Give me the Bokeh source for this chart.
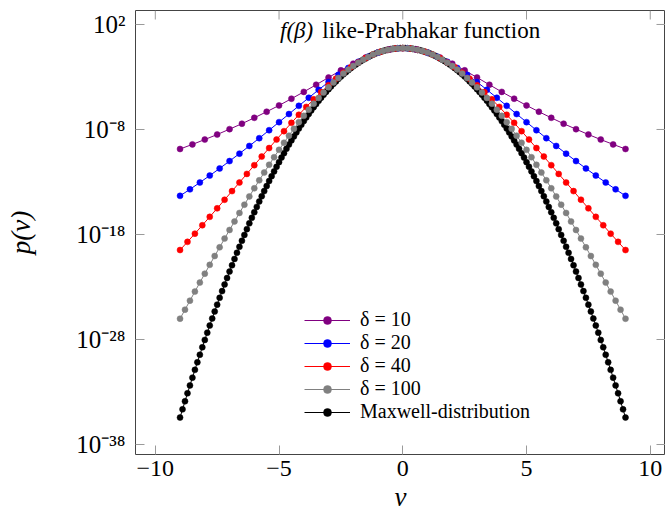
import numpy as np
from bokeh.plotting import figure
from bokeh.models import (Range1d, FixedTicker, CustomJSTickFormatter,
                          Legend, LegendItem, Label)
from bokeh.embed import file_html
from bokeh.resources import INLINE

# ---------------- data ----------------
series_labels = ["δ = 10", "δ = 20", "δ = 40", "δ = 100", "Maxwell-distribution"]
series_colors = ["#800080", "#0000ff", "#ff0000", "#808080", "#000000"]

# sample positions v >= 0 (curves are symmetric about v = 0)
purple_v = np.round(np.arange(0.0, 9.0001, 0.5), 2)
blue_v = np.round(np.arange(0.2, 9.0001, 0.4), 2)
red_v = np.round(np.arange(0.0, 9.0001, 0.3), 2)
gray_v = np.round(np.arange(0.0, 9.0001, 0.2), 2)
maxwell_v = np.round(np.arange(0.0, 9.0001, 0.1), 2)

# log10 p(v)
purple_log10p = [-0.27, -0.37, -0.68, -1.15, -1.73, -2.37, -3.05, -3.74, -4.42, -5.07,
                 -5.71, -6.31, -6.89, -7.45, -7.97, -8.48, -8.96, -9.42, -9.86]
blue_log10p = [-0.27, -0.41, -0.68, -1.07, -1.56, -2.14, -2.79, -3.48, -4.22, -4.98,
               -5.75, -6.53, -7.30, -8.07, -8.83, -9.57, -10.30, -11.01, -11.71, -12.39,
               -13.05, -13.70, -14.32]
red_log10p = [-0.25, -0.29, -0.41, -0.60, -0.87, -1.20, -1.61, -2.07, -2.59, -3.16,
              -3.78, -4.44, -5.13, -5.85, -6.60, -7.37, -8.16, -8.96, -9.77, -10.58,
              -11.40, -12.23, -13.05, -13.87, -14.69, -15.51, -16.32, -17.12, -17.92, -18.70,
              -19.48]
gray_log10p = [-0.25, -0.27, -0.32, -0.41, -0.53, -0.68, -0.87, -1.09, -1.35, -1.64,
               -1.95, -2.30, -2.68, -3.09, -3.53, -3.99, -4.48, -5.00, -5.54, -6.11,
               -6.70, -7.31, -7.94, -8.59, -9.26, -9.94, -10.64, -11.36, -12.10, -12.84,
               -13.60, -14.38, -15.16, -15.95, -16.76, -17.57, -18.39, -19.22, -20.05, -20.89,
               -21.73, -22.58, -23.44, -24.30, -25.16, -26.02]
maxwell_log10p = [-0.25, -0.25, -0.27, -0.29, -0.32, -0.36, -0.41, -0.46, -0.53, -0.60,
                  -0.68, -0.77, -0.87, -0.98, -1.10, -1.23, -1.36, -1.50, -1.66, -1.82,
                  -1.99, -2.16, -2.35, -2.55, -2.75, -2.96, -3.18, -3.42, -3.65, -3.90,
                  -4.16, -4.42, -4.70, -4.98, -5.27, -5.57, -5.88, -6.19, -6.52, -6.85,
                  -7.20, -7.55, -7.91, -8.28, -8.66, -9.04, -9.44, -9.84, -10.26, -10.68,
                  -11.11, -11.55, -11.99, -12.45, -12.91, -13.39, -13.87, -14.36, -14.86, -15.37,
                  -15.88, -16.41, -16.94, -17.49, -18.04, -18.60, -19.17, -19.74, -20.33, -20.93,
                  -21.53, -22.14, -22.76, -23.39, -24.03, -24.68, -25.33, -26.00, -26.67, -27.35,
                  -28.04, -28.74, -29.45, -30.17, -30.89, -31.63, -32.37, -33.12, -33.88, -34.65,
                  -35.43]

x_ticks = [-10, -5, 0, 5, 10]
y_tick_exponents = [2, -8, -18, -28, -38]

title_math = "f(β)"
title_text = "like-Prabhakar function"
x_label = "v"
y_label = "p(v)"

# ---------------- build full (mirrored) series ----------------
def mirror(v, logp):
    v = np.asarray(v, dtype=float)
    lp = np.asarray(logp, dtype=float)
    assert len(v) == len(lp)
    pos = v > 0
    vf = np.concatenate([-v[pos][::-1], v])
    lf = np.concatenate([lp[pos][::-1], lp])
    return vf, 10.0 ** lf

series = [mirror(purple_v, purple_log10p), mirror(blue_v, blue_log10p),
          mirror(red_v, red_log10p), mirror(gray_v, gray_log10p),
          mirror(maxwell_v, maxwell_log10p)]

FONT = "Liberation Serif"
AXIS_COLOR = "#444444"
TICK_COLOR = "#9a9a9a"

X0, X1 = -10.8, 10.616
LY0, LY1 = -38.95, 3.33
FRAME_W, FRAME_H = 530, 444
TICK_PX = 9

p = figure(width=665, height=516, y_axis_type="log",
           x_range=Range1d(X0, X1), y_range=Range1d(10 ** LY0, 10 ** LY1),
           output_backend="svg", toolbar_location=None,
           min_border_left=135, min_border_right=0, min_border_top=10, min_border_bottom=62)
p.outline_line_color = AXIS_COLOR
p.outline_line_width = 1
p.grid.visible = False
p.background_fill_color = "white"
p.border_fill_color = "white"

# bottom axis
xa = p.xaxis[0]
xa.ticker = FixedTicker(ticks=x_ticks, minor_ticks=[])
xa.formatter = CustomJSTickFormatter(code="return tick < 0 ? '\\u2212' + String(-tick) : String(tick);")
xa.major_tick_in = TICK_PX
xa.major_tick_out = 0
xa.minor_tick_line_color = None
xa.axis_line_color = None
xa.major_tick_line_color = TICK_COLOR
xa.major_label_text_font = FONT
xa.major_label_text_font_size = "24px"
xa.major_label_text_color = "black"
xa.major_label_standoff = 6
xa.axis_label = x_label
xa.axis_label_text_font = FONT
xa.axis_label_text_font_style = "italic"
xa.axis_label_text_font_size = "27px"
xa.axis_label_text_color = "black"
xa.axis_label_standoff = 3

# left axis
ya = p.yaxis[0]
ya.ticker = FixedTicker(ticks=[10.0 ** e for e in y_tick_exponents], minor_ticks=[])
ya.formatter = CustomJSTickFormatter(code=r"""
const e = Math.round(Math.log10(tick));
const m = {"0":"\u2070","1":"\u00b9","2":"\u00b2","3":"\u00b3","4":"\u2074","5":"\u2075",
           "6":"\u2076","7":"\u2077","8":"\u2078","9":"\u2079","-":"\u207b"};
return "10" + String(e).split("").map(c => m[c]).join("");
""")
ya.major_tick_in = TICK_PX
ya.major_tick_out = 0
ya.minor_tick_line_color = None
ya.axis_line_color = None
ya.major_tick_line_color = TICK_COLOR
ya.major_label_text_font = FONT
ya.major_label_text_font_size = "25px"
ya.major_label_text_color = "black"
ya.major_label_standoff = 10
ya.axis_label = y_label
ya.axis_label_text_font = FONT
ya.axis_label_text_font_style = "italic"
ya.axis_label_text_font_size = "27px"
ya.axis_label_text_color = "black"
ya.axis_label_standoff = 37

# inward ticks on the top and right edges of the box, from the same tick lists
dly = TICK_PX * (LY1 - LY0) / FRAME_H
dx = TICK_PX * (X1 - X0) / FRAME_W
p.segment(x0=x_ticks, y0=[10 ** LY1] * len(x_ticks), x1=x_ticks,
          y1=[10 ** (LY1 - dly)] * len(x_ticks), line_color=TICK_COLOR, line_width=1)
p.segment(x0=[X1 - dx] * len(y_tick_exponents), y0=[10.0 ** e for e in y_tick_exponents],
          x1=[X1] * len(y_tick_exponents), y1=[10.0 ** e for e in y_tick_exponents],
          line_color=TICK_COLOR, line_width=1)

# glyphs: Maxwell first (underneath), then the δ series
renderers = {}
order = [4, 0, 1, 2, 3]
for i in order:
    v, pv = series[i]
    ln = p.line(v, pv, line_color=series_colors[i], line_width=1)
    sc = p.scatter(v, pv, marker="circle", size=6, fill_color=series_colors[i],
                   line_color=series_colors[i], line_width=0.5)
    renderers[i] = [ln, sc]

legend = Legend(items=[LegendItem(label=series_labels[i], renderers=renderers[i]) for i in range(5)],
                location=(169, 31), label_text_font=FONT, label_text_font_size="20px",
                label_text_color="black", label_height=20,
                glyph_width=46, glyph_height=20, spacing=0, padding=0, margin=0,
                label_standoff=10, border_line_color=None, background_fill_alpha=0)
p.add_layout(legend)

# title inside the frame
title_y = 10 ** 1.43
p.add_layout(Label(x=-3.25, y=title_y, text=title_text, text_align="left",
                   text_baseline="alphabetic", text_font=FONT, text_font_size="23px",
                   text_color="black"))
p.add_layout(Label(x=-3.62, y=title_y, text=title_math, text_align="right",
                   text_baseline="alphabetic", text_font=FONT, text_font_style="italic",
                   text_font_size="23px", text_color="black"))

open("out.html", "w").write(file_html(p, INLINE))
